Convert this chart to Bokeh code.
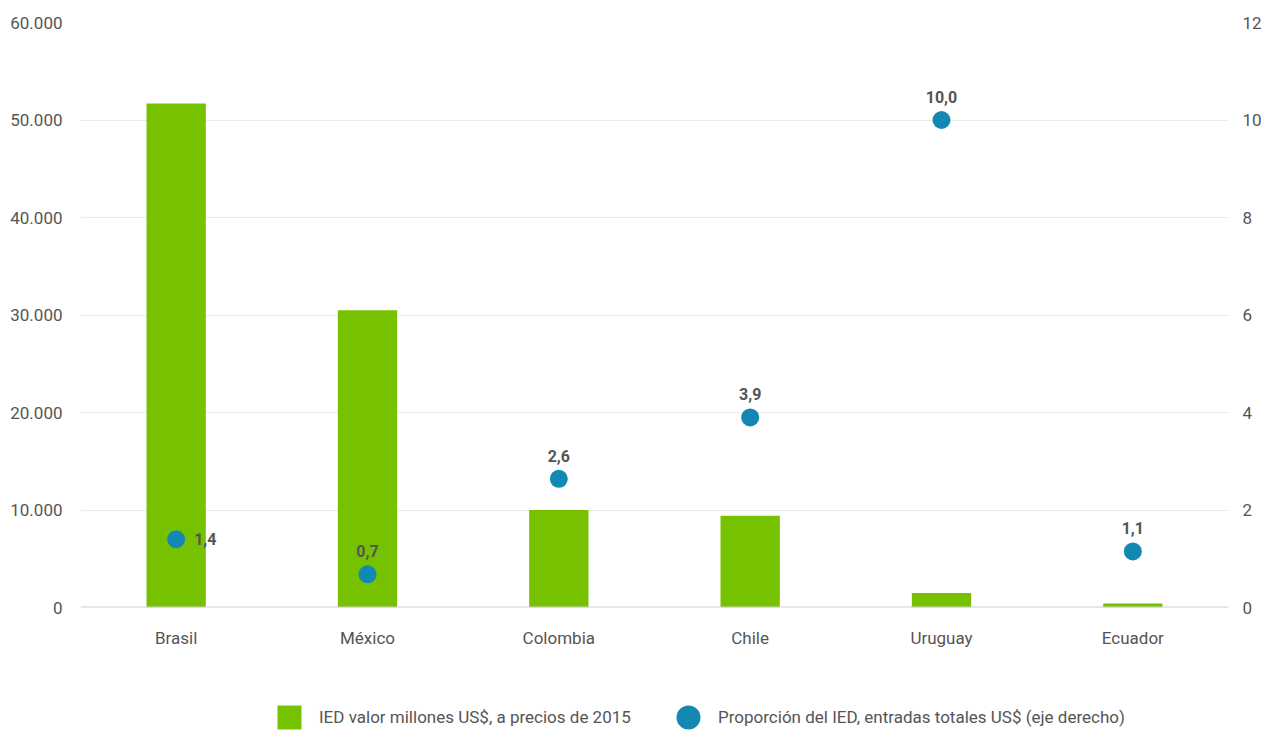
from bokeh.plotting import figure
from bokeh.models import (ColumnDataSource, Range1d, LinearAxis, FixedTicker, CustomJSTickFormatter,
                          Legend, LegendItem, Span, FactorRange, CDSView, IndexFilter)
from bokeh.layouts import column
from bokeh.core.properties import value
from bokeh.embed import file_html
from bokeh.resources import INLINE

countries = ["Brasil", "México", "Colombia", "Chile", "Uruguay", "Ecuador"]
ied_valor = [51700, 30500, 10000, 9400, 1500, 400]
ied_prop = [1.4, 0.68, 2.64, 3.9, 10.0, 1.15]
prop_labels = ["1,4", "0,7", "2,6", "3,9", "10,0", "1,1"]
left_ticks = [0, 10000, 20000, 30000, 40000, 50000, 60000]
right_ticks = [0, 2, 4, 6, 8, 10, 12]
legend_labels = ["IED valor millones US$, a precios de 2015",
                 "Proporción del IED, entradas totales US$ (eje derecho)"]

FONT = "Roboto"
GREEN = "#77c200"
BLUE = "#1488b2"
TXT = "#555555"

src = ColumnDataSource(dict(x=countries, v=ied_valor, p=ied_prop, lab=prop_labels))

p = figure(width=1271, height=690, x_range=FactorRange(*countries, range_padding=0),
           y_range=Range1d(0, 60000), output_backend="svg", toolbar_location=None,
           min_border_left=80, min_border_right=43, min_border_top=22, min_border_bottom=83)
p.extra_y_ranges = {"right": Range1d(0, 12)}
p.outline_line_color = None

p.ygrid.ticker = FixedTicker(ticks=left_ticks)
p.ygrid.grid_line_color = "#ebebeb"
p.xgrid.grid_line_color = None
p.add_layout(Span(location=0, dimension="width", line_color="#d0d0d0", line_width=2))

p.vbar(x="x", top="v", width=0.31, source=src, fill_color=GREEN, line_color=None)
p.scatter(x="x", y="p", size=18, source=src, fill_color=BLUE, line_color=None,
          y_range_name="right")

right_view = CDSView(filter=IndexFilter([0]))
above_view = CDSView(filter=IndexFilter([1, 2, 3, 4, 5]))
p.text(x="x", y="p", text="lab", source=src, view=right_view, y_range_name="right",
       x_offset=18, text_align="left", text_baseline="middle", text_font=value(FONT),
       text_font_style="bold", text_font_size="16px", text_color=TXT)
p.text(x="x", y="p", text="lab", source=src, view=above_view, y_range_name="right",
       y_offset=-23, text_align="center", text_baseline="middle", text_font=value(FONT),
       text_font_style="bold", text_font_size="16px", text_color=TXT)

fmt = CustomJSTickFormatter(code="return tick.toFixed(0).replace(/\\B(?=(\\d{3})+(?!\\d))/g, '.');")

ax = p.yaxis[0]
ax.ticker = FixedTicker(ticks=left_ticks)
ax.formatter = fmt
ax.major_label_standoff = 12

rax = LinearAxis(y_range_name="right", ticker=FixedTicker(ticks=right_ticks))
rax.major_label_standoff = 8
p.add_layout(rax, "right")

xa = p.xaxis[0]
xa.major_label_standoff = 14

for a in (ax, rax, xa):
    a.axis_line_color = None
    a.major_tick_line_color = None
    a.minor_tick_line_color = None
    a.major_label_text_font = FONT
    a.major_label_text_font_size = "17px"
    a.major_label_text_color = TXT

# legend strip (frame is aligned with the main chart's frame by the column layout)
lg = figure(width=1271, height=44, x_range=Range1d(0, 1), y_range=Range1d(0, 1),
            output_backend="svg", toolbar_location=None, min_border=0)
lg.outline_line_color = None
lg.xaxis.visible = False
lg.yaxis.visible = False
lg.xgrid.visible = False
lg.ygrid.visible = False
proxy = ColumnDataSource(dict(x=[float("nan")], y=[float("nan")]))
r_sq = lg.scatter(x="x", y="y", source=proxy, marker="square", fill_color=GREEN, line_color=None)
r_ci = lg.scatter(x="x", y="y", source=proxy, marker="circle", fill_color=BLUE, line_color=None)
legend = Legend(items=[LegendItem(label=legend_labels[0], renderers=[r_sq]),
                       LegendItem(label=legend_labels[1], renderers=[r_ci])],
                location=(179, -13), orientation="horizontal", glyph_width=60, glyph_height=60,
                label_standoff=0, label_width=319, spacing=20, padding=0, margin=0,
                border_line_color=None, background_fill_alpha=0, label_text_font=FONT,
                label_text_font_size="17px", label_text_color=TXT, label_text_baseline="middle")
lg.add_layout(legend, "center")

layout = column(p, lg, spacing=0)
open("out.html", "w").write(file_html(layout, INLINE))
